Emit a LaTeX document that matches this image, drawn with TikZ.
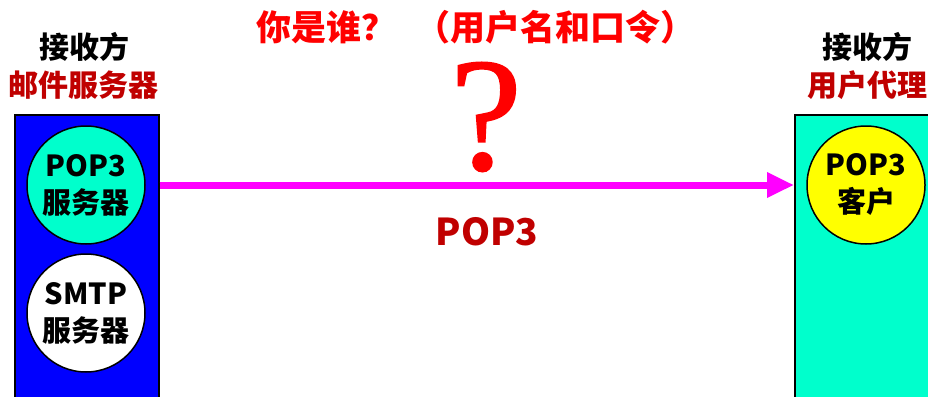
\documentclass[tikz,border=0pt]{standalone}
\usepackage{fontspec}
\newfontfamily\cjk{Noto Sans CJK SC}
\newfontfamily\serifq{Liberation Serif}[FakeBold=0.9]
\usetikzlibrary{arrows.meta}
\definecolor{mint}{HTML}{00FFCC}
\definecolor{dred}{HTML}{C00000}
\definecolor{pinkline}{HTML}{FF00FF}
\definecolor{pureblue}{HTML}{0000FF}
\definecolor{purered}{HTML}{FF0000}
\definecolor{pureyellow}{HTML}{FFFF00}
\begin{document}
\begin{tikzpicture}[x=1pt,y=-1pt,
  lbl/.style={font=\cjk\bfseries\fontsize{29}{37}\selectfont, align=center, inner sep=0pt},
  head/.style={font=\cjk\bfseries\fontsize{30}{37}\selectfont, align=center, inner sep=0pt},
  circ/.style={circle, draw=black, line width=1.5pt, minimum size=118pt, inner sep=0pt, lbl},
  box/.style={draw=black, line width=1.5pt, minimum height=300pt, anchor=north west, inner sep=0pt},
  flow/.style={draw=pinkline, line width=7pt, -{Triangle[length=27pt,width=24pt]}}
]
\useasboundingbox (0,0) rectangle (928,396);
\node[box, fill=pureblue, minimum width=144pt] (srv) at (14,114) {};
\node[box, fill=mint, minimum width=150pt] (ua) at (794,114) {};
\node[circ, fill=mint] (pops) at (86,185) {POP3\\服务器};
\node[circ, fill=white] (smtp) at (86,313) {SMTP\\服务器};
\node[circ, fill=pureyellow] (popc) at (866,185) {POP3\\客户};
\node[head] (h1) at (84,47) {接收方};
\node[head, text=dred] (h2) at (84,85) {邮件服务器};
\node[head] (h3) at (867,47) {接收方};
\node[head, text=dred] (h4) at (867,85) {用户代理};
\node[head, text=purered, font=\cjk\bfseries\fontsize{35}{38}\selectfont] (title) at (476,27) {你是谁？\hspace{20pt}（用户名和口令）};
\node[text=purered, font=\serifq\fontsize{162}{165}\selectfont, inner sep=0pt] (q) at (486,117) {?};
\node[text=dred, font=\cjk\bfseries\fontsize{37}{40}\selectfont, inner sep=0pt] (plabel) at (487,232) {POP3};
\draw[flow] (srv.east |- pops) -- (ua.west |- pops);
\end{tikzpicture}
\end{document}
